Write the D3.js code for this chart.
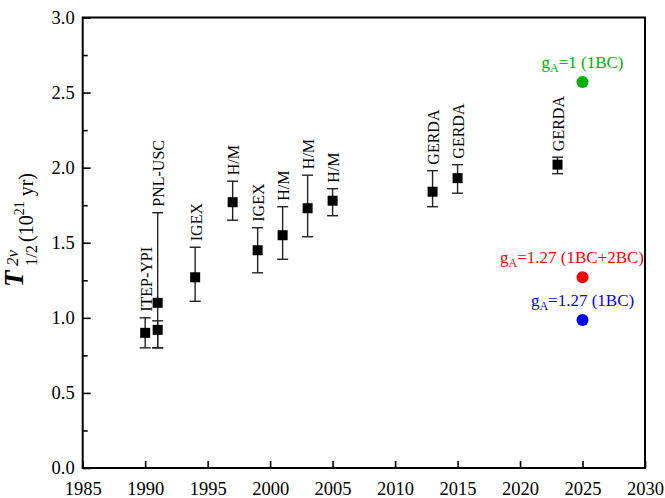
<!DOCTYPE html>
<html><head><meta charset="utf-8">
<script src="https://cdn.jsdelivr.net/npm/d3@7"></script>
<style>body{margin:0;background:#fff}svg{display:block}svg text{font-family:"Liberation Serif","Times New Roman",serif !important}</style>
</head><body><svg id="c" width="665" height="498"></svg>
<script>
// ---- data ----
const years  = [1990, 1991, 1991, 1994, 1997, 1999, 2001, 2003, 2005, 2013, 2015, 2023];
const values = [0.90, 0.92, 1.10, 1.27, 1.77, 1.45, 1.55, 1.73, 1.78, 1.84, 1.93, 2.02];
const lows   = [0.80, 0.80, 0.80, 1.11, 1.65, 1.30, 1.39, 1.54, 1.68, 1.74, 1.83, 1.96];
const highs  = [1.00, 0.98, 1.70, 1.47, 1.91, 1.60, 1.74, 1.95, 1.86, 1.98, 2.02, 2.07];
const expLabels = ["ITEP-YPI", "", "PNL-USC", "IGEX", "H/M", "IGEX", "H/M", "H/M", "H/M", "GERDA", "GERDA", "GERDA"];

const theoYears  = [2025, 2025, 2025];
const theoValues = [2.57, 1.27, 0.985];
const theoGA     = ["1", "1.27", "1.27"];
const theoCase   = ["(1BC)", "(1BC+2BC)", "(1BC)"];
const theoColors = ["#00b000", "#ff0000", "#0000ff"];

const xTicks = [1985, 1990, 1995, 2000, 2005, 2010, 2015, 2020, 2025, 2030];
const yTicks = [0.0, 0.5, 1.0, 1.5, 2.0, 2.5, 3.0];
const yMinor = [0.25, 0.75, 1.25, 1.75, 2.25, 2.75];

// ---- layout ----
const L = 82.7, R = 645, T = 17.5, B = 468;
const svg = d3.select("#c");
const x = d3.scaleLinear().domain([1985, 2030]).range([L, R]);
const y = d3.scaleLinear().domain([0, 3]).range([B, T]);

// axes
const xAxis = d3.axisBottom(x).tickValues(xTicks).tickSizeInner(-7).tickSizeOuter(0).tickPadding(10).tickFormat(d3.format("d"));
const gx = svg.append("g").attr("transform", `translate(0,${B})`).call(xAxis);
const yAxis = d3.axisLeft(y).tickValues(yTicks).tickSizeInner(-8).tickSizeOuter(0).tickPadding(8).tickFormat(d3.format(".1f"));
const gy = svg.append("g").attr("transform", `translate(${L},0)`).call(yAxis);
const gym = svg.append("g").attr("transform", `translate(${L},0)`)
  .call(d3.axisLeft(y).tickValues(yMinor).tickSizeInner(-5).tickSizeOuter(0).tickFormat(""));
[gx, gy, gym].forEach(g => {
  g.attr("font-family", null);
  g.select(".domain").remove();
  g.selectAll(".tick line").attr("stroke", "#000").attr("stroke-width", 1.6);
  g.selectAll(".tick text").attr("fill", "#000").attr("font-size", 18.5);
});
gx.selectAll(".tick text").attr("dy", "0.9em");

// frame
svg.append("rect").attr("x", L).attr("y", T).attr("width", R - L).attr("height", B - T)
  .attr("fill", "none").attr("stroke", "#000").attr("stroke-width", 2);

// y title
const tg = svg.append("g").attr("transform", "rotate(-90)");
tg.append("text").attr("x", -287).attr("y", 23).attr("font-size", 27)
  .attr("font-style", "italic").attr("font-weight", "bold").text("T");
tg.append("text").attr("x", -266).attr("y", 18).attr("font-size", 17)
  .attr("font-style", "italic").text("2ν");
tg.append("text").attr("x", -266).attr("y", 37).attr("font-size", 16.5).text("1/2");
const tt = tg.append("text").attr("x", -242).attr("y", 33).attr("font-size", 20);
tt.append("tspan").text("(10");
tt.append("tspan").attr("dy", -9).attr("font-size", 14).text("21");
tt.append("tspan").attr("dy", 9).text(" yr)");

// experimental data
const idx = d3.range(years.length);
const eb = svg.append("g").attr("stroke", "#222").attr("stroke-width", 1.4);
const cap = 5.5;
idx.forEach(i => {
  const cx = x(years[i]);
  eb.append("line").attr("x1", cx).attr("x2", cx).attr("y1", y(lows[i])).attr("y2", y(highs[i]));
  eb.append("line").attr("x1", cx - cap).attr("x2", cx + cap).attr("y1", y(lows[i])).attr("y2", y(lows[i]));
  eb.append("line").attr("x1", cx - cap).attr("x2", cx + cap).attr("y1", y(highs[i])).attr("y2", y(highs[i]));
});
svg.append("g").selectAll("rect").data(idx).join("rect")
  .attr("x", i => x(years[i]) - 5).attr("y", i => y(values[i]) - 5)
  .attr("width", 10).attr("height", 10).attr("fill", "#000");

svg.append("g").selectAll("text").data(idx.filter(i => expLabels[i])).join("text")
  .attr("transform", i => `translate(${x(years[i]) + 1},${y(highs[i]) - 6}) rotate(-90)`)
  .attr("dy", "0.35em").attr("font-size", 16).attr("fill", "#000")
  .text(i => expLabels[i]);

// theoretical points
const tIdx = d3.range(theoYears.length);
svg.append("g").selectAll("circle").data(tIdx).join("circle")
  .attr("cx", i => x(theoYears[i])).attr("cy", i => y(theoValues[i])).attr("r", 6)
  .attr("fill", i => theoColors[i]);
const lab = svg.append("g").selectAll("text").data(tIdx).join("text")
  .attr("x", i => x(theoYears[i]))
  .attr("y", i => y(theoValues[i]) - 14)
  .attr("text-anchor", "middle").attr("font-size", 17)
  .attr("fill", i => theoColors[i]);
lab.append("tspan").text("g");
lab.append("tspan").attr("dy", 4).attr("font-size", 12).text("A");
lab.append("tspan").attr("dy", -4).text(i => "=" + theoGA[i] + " " + theoCase[i]);
// keep the wide label inside the frame
lab.each(function () {
  const bb = this.getBBox();
  if (bb.x + bb.width > R - 1) {
    d3.select(this).attr("x", +d3.select(this).attr("x") - (bb.x + bb.width - (R - 1)));
  }
});
</script></body></html>
